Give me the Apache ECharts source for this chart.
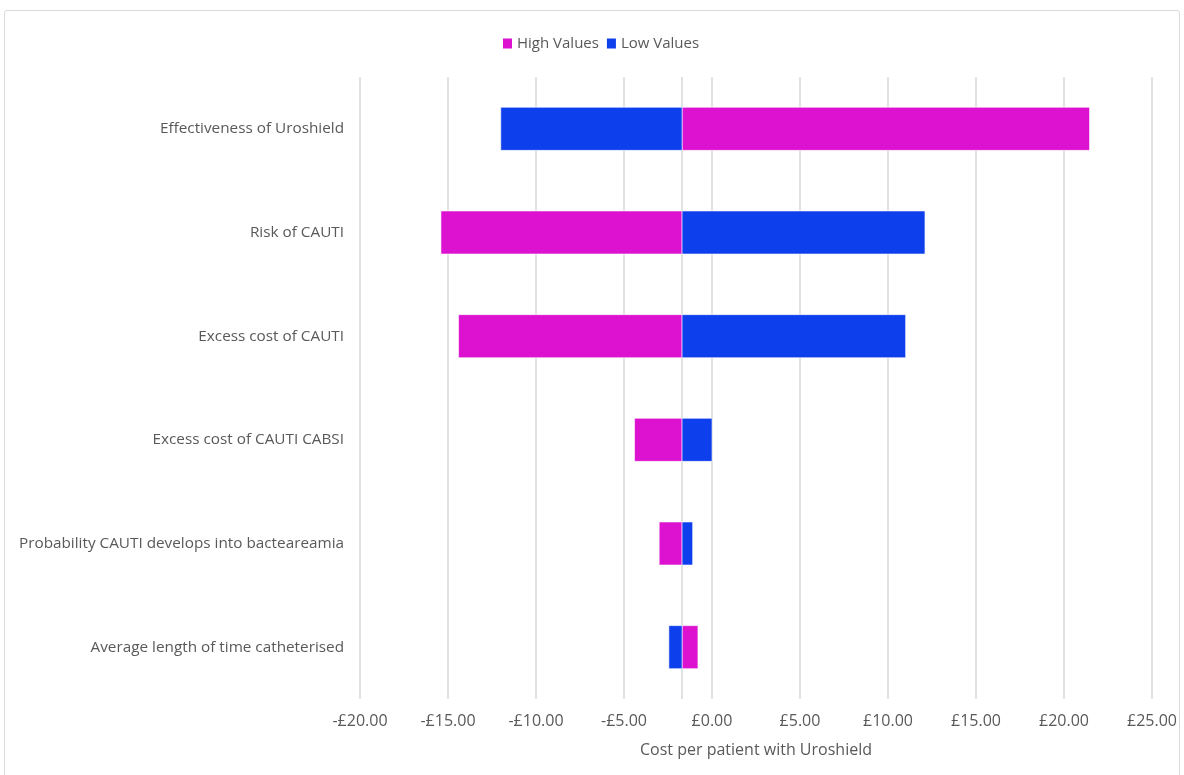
<!DOCTYPE html>
<html>
<head>
<meta charset="utf-8">
<script src="https://cdn.jsdelivr.net/npm/echarts@6/dist/echarts.min.js"></script>
<style>
  html, body { margin: 0; padding: 0; background: #fff; }
  #frame { position: absolute; left: 4px; top: 10px; width: 1176px; height: 780px; border: 1px solid #d9d9d9; border-radius: 3px; box-sizing: border-box; }
  #chart { width: 1184px; height: 775px; position: absolute; left: 0; top: 0; }
</style>
</head>
<body>
<div id="frame"></div>
<div id="chart"></div>
<script>
// Tornado chart: cost per patient with Uroshield, one-way sensitivity
const categories = [
  'Effectiveness of Uroshield',
  'Risk of CAUTI',
  'Excess cost of CAUTI',
  'Excess cost of CAUTI CABSI',
  'Probability CAUTI develops into bacteareamia',
  'Average length of time catheterised'
];
const baseValue = -1.7;
const highValues = [21.45, -15.4, -14.4, -4.4, -3.0, -0.8];
const lowValues = [-12.0, 12.1, 11.0, 0.0, -1.1, -2.45];
const xTicks = { min: -20, max: 25, interval: 5 };

const HIGH_COLOR = '#dd12d0';
const LOW_COLOR = '#0e3fec';
const TEXT = '#595959';
const FONT = 'Open Sans';

function fmtGBP(v) {
  return (v < 0 ? '-£' : '£') + Math.abs(v).toFixed(2);
}

// Each bar spans from the base case value to the sensitivity value
function barRenderer(color) {
  return function (params, api) {
    const cat = api.value(0);
    const end = api.value(1);
    const p0 = api.coord([baseValue, cat]);
    const p1 = api.coord([end, cat]);
    const h = api.size([0, 1])[1] * 0.415;
    const x = Math.min(p0[0], p1[0]);
    const w = Math.abs(p1[0] - p0[0]);
    return {
      type: 'rect',
      shape: { x: x, y: p0[1] - h / 2, width: w, height: h },
      style: { fill: color, stroke: 'rgba(255,255,255,0.55)', lineWidth: 1 }
    };
  };
}

const chart = echarts.init(document.getElementById('chart'), null, { renderer: 'canvas' });
chart.setOption({
  animation: false,
  textStyle: { fontFamily: FONT, color: TEXT },
  legend: {
    top: 31,
    left: 498,
    itemWidth: 9,
    itemHeight: 10,
    itemGap: 8,
    icon: 'rect',
    textStyle: { fontFamily: FONT, fontSize: 15, color: TEXT },
    data: ['High Values', 'Low Values']
  },
  grid: { left: 360, right: 32, top: 77, bottom: 76, containLabel: false },
  xAxis: {
    type: 'value',
    min: xTicks.min,
    max: xTicks.max,
    interval: xTicks.interval,
    axisLine: { show: false },
    axisTick: { show: false },
    splitLine: { show: true, lineStyle: { color: '#d9d9d9', width: 1.5 } },
    axisLabel: { formatter: fmtGBP, fontFamily: FONT, fontSize: 16, color: TEXT, margin: 14 },
    name: 'Cost per patient with Uroshield',
    nameLocation: 'middle',
    nameGap: 43,
    nameTextStyle: { fontFamily: FONT, fontSize: 16, color: TEXT }
  },
  yAxis: {
    type: 'category',
    data: categories,
    inverse: true,
    axisLine: { show: false },
    axisTick: { show: false },
    splitLine: { show: false },
    axisLabel: { fontFamily: FONT, fontSize: 15.3, color: TEXT, margin: 16 }
  },
  series: [
    {
      name: 'High Values',
      type: 'custom',
      itemStyle: { color: HIGH_COLOR },
      encode: { x: 1, y: 0 },
      data: highValues.map((v, i) => [i, v]),
      renderItem: barRenderer(HIGH_COLOR),
      z: 3,
      markLine: {
        silent: true,
        symbol: 'none',
        label: { show: false },
        lineStyle: { color: '#d9d9d9', width: 1.5, type: 'solid' },
        data: [{ xAxis: baseValue }],
        z: 1
      }
    },
    {
      name: 'Low Values',
      type: 'custom',
      itemStyle: { color: LOW_COLOR },
      encode: { x: 1, y: 0 },
      data: lowValues.map((v, i) => [i, v]),
      renderItem: barRenderer(LOW_COLOR),
      z: 3
    }
  ]
});
</script>
</body>
</html>
